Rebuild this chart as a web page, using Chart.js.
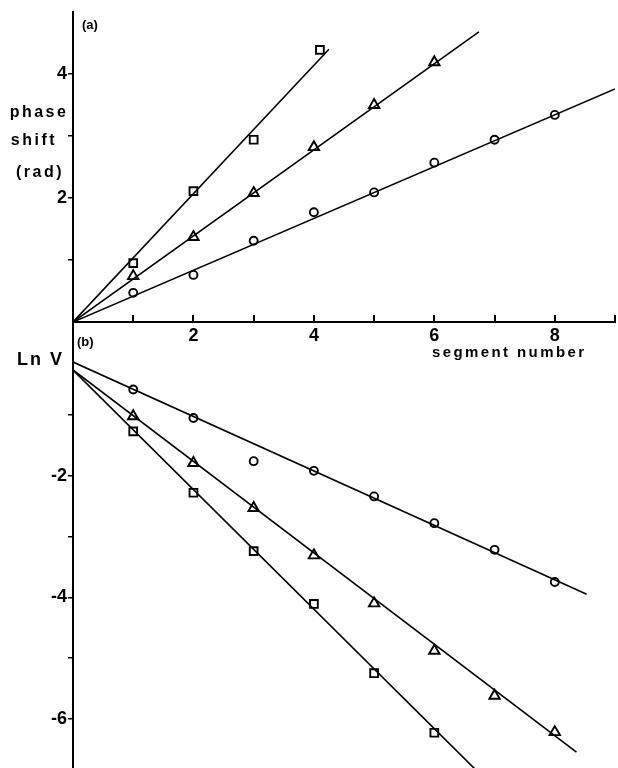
<!DOCTYPE html>
<html>
<head>
<meta charset="utf-8">
<script src="https://cdn.jsdelivr.net/npm/chart.js@4.4.0/dist/chart.umd.min.js"></script>
<style>
  html, body { margin: 0; padding: 0; background: #fff; }
  #wrap { position: relative; width: 618px; height: 768px; }
  canvas { position: absolute; left: 0; top: 0; }
</style>
</head>
<body>
<div id="wrap">
  <canvas id="chartA" width="618" height="768"></canvas>
  <canvas id="chartB" width="618" height="768"></canvas>
</div>
<script>
// (a) phase shift (rad) against segment number
const segA_circle = [1, 2, 3, 4, 5, 6, 7, 8];
const phase_circle = [0.47, 0.76, 1.31, 1.77, 2.09, 2.57, 2.94, 3.34];
const segA_triangle = [1, 2, 3, 4, 5, 6];
const phase_triangle = [0.74, 1.37, 2.08, 2.82, 3.50, 4.19];
const segA_square = [1, 2, 3, 4.1];
const phase_square = [0.95, 2.11, 2.94, 4.39];
// fitted lines, end points
const fitA_circle = { x: [0, 9], y: [0, 3.76] };
const fitA_triangle = { x: [0, 6.74], y: [0, 4.68] };
const fitA_square = { x: [0, 4.25], y: [0, 4.4] };

// (b) Ln V against segment number
const segB_circle = [1, 2, 3, 4, 5, 6, 7, 8];
const lnv_circle = [-0.58, -1.05, -1.76, -1.92, -2.34, -2.78, -3.22, -3.75];
const segB_triangle = [1, 2, 3, 4, 5, 6, 7, 8];
const lnv_triangle = [-1.02, -1.79, -2.53, -3.31, -4.10, -4.88, -5.62, -6.22];
const segB_square = [1, 2, 3, 4, 5, 6];
const lnv_square = [-1.27, -2.28, -3.24, -4.11, -5.25, -6.23];
const fitB_circle = { x: [0, 8.53], y: [-0.13, -3.95] };
const fitB_triangle = { x: [0, 8.36], y: [-0.26, -6.55] };
const fitB_square = { x: [0, 6.8], y: [-0.26, -6.95] };

// axis ranges and labelled ticks
const xRange = [0, 9];
const yRangeA = [0, 5];
const yRangeB = [-6.81, 0.53];
const xLabels = [2, 4, 6, 8];
const yLabelsA = [2, 4];
const yLabelsB = [-2, -4, -6];

const tickFont = { family: 'Liberation Sans, Arial, sans-serif', size: 18, weight: 'bold' };

function pts(xs, ys) {
  return xs.map((x, i) => ({ x: x, y: ys[i] }));
}

function lineSet(fit) {
  return {
    data: pts(fit.x, fit.y),
    showLine: true,
    borderColor: '#000',
    borderWidth: 1.6,
    pointRadius: 0,
    order: 2
  };
}

function markerSet(xs, ys, style, r) {
  return {
    data: pts(xs, ys),
    pointStyle: style,
    pointRadius: r,
    pointBorderWidth: 1.9,
    pointBorderColor: '#000',
    pointBackgroundColor: 'rgba(0,0,0,0)',
    showLine: false,
    order: 1
  };
}

function textPlugin(items) {
  return {
    id: 'panelText',
    afterDraw(chart) {
      const ctx = chart.ctx;
      ctx.save();
      ctx.fillStyle = '#000';
      ctx.textBaseline = 'middle';
      items.forEach(t => {
        ctx.font = t.font;
        ctx.textAlign = t.align || 'left';
        ctx.letterSpacing = t.spacing || '0px';
        ctx.fillText(t.text, t.x, t.y);
      });
      ctx.restore();
    }
  };
}

const axisLine = { color: '#000', width: 2 };

new Chart(document.getElementById('chartA'), {
  type: 'scatter',
  data: {
    datasets: [
      lineSet(fitA_circle), lineSet(fitA_triangle), lineSet(fitA_square),
      markerSet(segA_circle, phase_circle, 'circle', 4),
      markerSet(segA_triangle, phase_triangle, 'triangle', 6),
      markerSet(segA_square, phase_square, 'rect', 5.5)
    ]
  },
  options: {
    responsive: false,
    animation: false,
    devicePixelRatio: 1,
    layout: { autoPadding: false, padding: { top: 12, right: 3, left: 0, bottom: 0 } },
    plugins: { legend: { display: false }, tooltip: { enabled: false } },
    scales: {
      x: {
        type: 'linear', position: 'bottom', min: xRange[0], max: xRange[1],
        afterFit: s => { s.height = 446; s.paddingLeft = 0; s.paddingRight = 0; },
        border: axisLine,
        grid: { drawOnChartArea: false, tickLength: -7, color: '#000', lineWidth: 2,
          tickColor: c => (c.tick && c.tick.value === 0) ? 'rgba(0,0,0,0)' : '#000' },
        ticks: {
          stepSize: 1, autoSkip: false, maxRotation: 0, padding: 10, color: '#000', font: tickFont,
          callback: v => xLabels.includes(v) ? String(v) : ''
        }
      },
      y: {
        type: 'linear', min: yRangeA[0], max: yRangeA[1],
        afterFit: s => { s.width = 73; s.paddingTop = 0; s.paddingBottom = 0; },
        border: axisLine,
        grid: { drawOnChartArea: false, tickLength: 5, color: '#000', lineWidth: 1.5,
          tickColor: c => (c.tick && (c.tick.value === 0 || c.tick.value === 5)) ? 'rgba(0,0,0,0)' : '#000' },
        ticks: {
          stepSize: 1, autoSkip: false, padding: 1, color: '#000', font: tickFont,
          callback: v => yLabelsA.includes(v) ? String(v) : ''
        }
      }
    }
  },
  plugins: [textPlugin([
    { text: '(a)', x: 82, y: 25, font: 'bold 13px Liberation Sans, Arial, sans-serif' },
    { text: 'phase', x: 39, y: 113, align: 'center', spacing: '2.5px', font: 'bold 16px Liberation Sans, Arial, sans-serif' },
    { text: 'shift', x: 34, y: 141, align: 'center', spacing: '2.5px', font: 'bold 16px Liberation Sans, Arial, sans-serif' },
    { text: '(rad)', x: 40, y: 173, align: 'center', spacing: '2.5px', font: 'bold 16px Liberation Sans, Arial, sans-serif' },
    { text: 'segment number', x: 432, y: 353, spacing: '2.4px', font: 'bold 15px Liberation Sans, Arial, sans-serif' }
  ])]
});

new Chart(document.getElementById('chartB'), {
  type: 'scatter',
  data: {
    datasets: [
      lineSet(fitB_circle), lineSet(fitB_triangle), lineSet(fitB_square),
      markerSet(segB_circle, lnv_circle, 'circle', 4),
      markerSet(segB_triangle, lnv_triangle, 'triangle', 6),
      markerSet(segB_square, lnv_square, 'rect', 5.5)
    ]
  },
  options: {
    responsive: false,
    animation: false,
    devicePixelRatio: 1,
    layout: { autoPadding: false, padding: { top: 322, right: 3, left: 0, bottom: 0 } },
    plugins: { legend: { display: false }, tooltip: { enabled: false } },
    scales: {
      x: { type: 'linear', display: false, min: xRange[0], max: xRange[1] },
      y: {
        type: 'linear', min: yRangeB[0], max: yRangeB[1],
        afterFit: s => { s.width = 73; s.paddingTop = 0; s.paddingBottom = 0; },
        border: axisLine,
        grid: { drawOnChartArea: false, tickLength: 5, color: '#000', lineWidth: 1.5,
          tickColor: c => (c.tick && c.tick.value === 0) ? 'rgba(0,0,0,0)' : '#000' },
        ticks: {
          stepSize: 1, includeBounds: false, autoSkip: false, padding: 1, color: '#000', font: tickFont,
          callback: v => yLabelsB.includes(v) ? '-' + Math.abs(v) : ''
        }
      }
    }
  },
  plugins: [textPlugin([
    { text: '(b)', x: 77, y: 342, font: 'bold 13px Liberation Sans, Arial, sans-serif' },
    { text: 'Ln V', x: 17, y: 360, spacing: '2px', font: 'bold 18px Liberation Sans, Arial, sans-serif' }
  ])]
});
</script>
</body>
</html>
